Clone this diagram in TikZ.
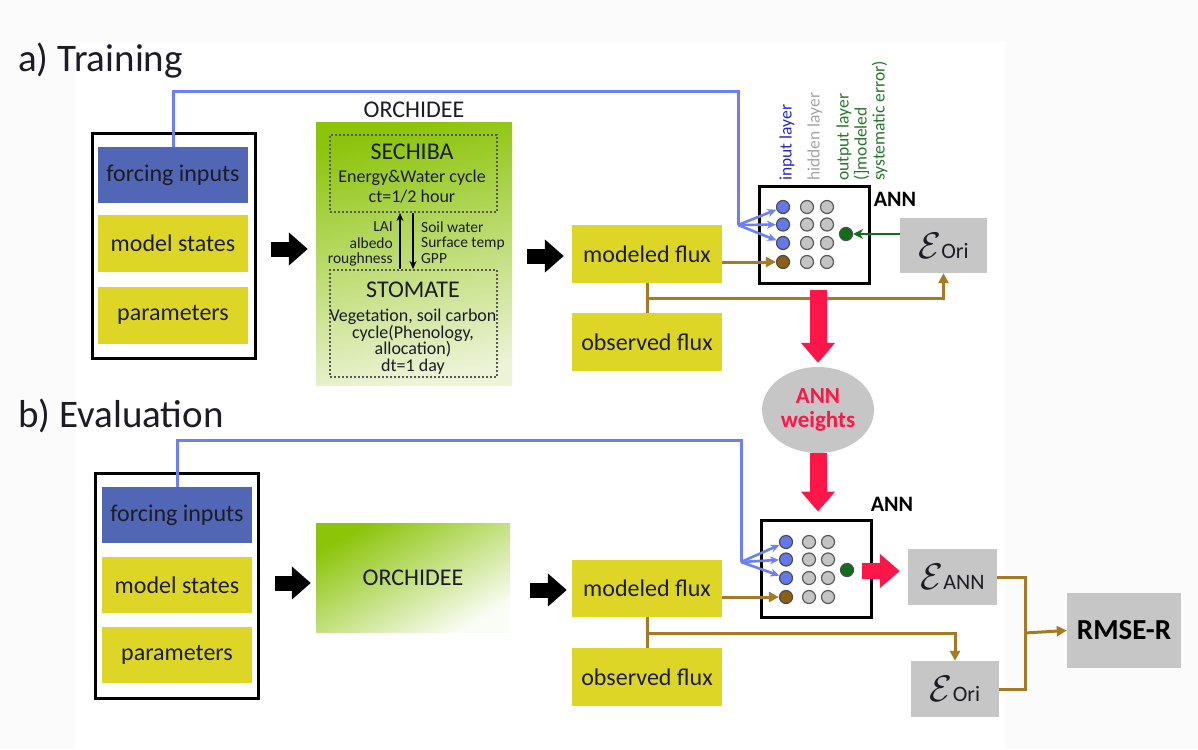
\RequirePackage{fix-cm}
\documentclass[tikz,border=0pt]{standalone}
\usepackage{fontspec}
\setmainfont{Carlito}
\usetikzlibrary{arrows.meta,shapes.geometric}
\definecolor{txt}{RGB}{28,28,36}
\definecolor{yel}{RGB}{222,214,38}
\definecolor{fblue}{RGB}{82,102,182}
\definecolor{greyb}{RGB}{198,198,198}
\definecolor{brn}{RGB}{166,122,36}
\definecolor{brnode}{RGB}{140,95,20}
\definecolor{bline}{RGB}{108,128,246}
\definecolor{bnode}{RGB}{100,120,235}
\definecolor{hnode}{RGB}{196,196,196}
\definecolor{redA}{RGB}{255,22,72}
\definecolor{dgreen}{RGB}{16,110,24}
\definecolor{orG}{RGB}{140,196,10}
\definecolor{orL}{RGB}{236,243,214}
\definecolor{lblblue}{RGB}{40,40,200}
\definecolor{lblgrey}{RGB}{165,165,165}
\definecolor{lblgreen}{RGB}{40,120,40}
\definecolor{bgout}{RGB}{251,251,251}
\newcommand{\epsl}[1]{{\fontsize{37}{37}\selectfont$\mathcal{E}$}{\fontsize{22}{22}\selectfont #1}}
\begin{document}
\begin{tikzpicture}[x=1pt,y=-1pt,
  lab/.style={font=\fontsize{24}{28}\selectfont, inner sep=0, text=txt},
  ybox/.style={lab, fill=yel, minimum width=150, minimum height=57},
  bbox/.style={lab, fill=fblue, minimum width=150, minimum height=56},
  frame/.style={draw=black, line width=3, fill=white, minimum width=163, minimum height=225, inner sep=0},
  gbox/.style={fill=greyb, inner sep=0, text=txt},
  annbox/.style={draw=black, line width=3, fill=white, minimum width=110, minimum height=97, inner sep=0},
  inn/.style={circle, fill=bnode, draw=black!70, line width=1.2, minimum size=13, inner sep=0},
  hid/.style={circle, fill=hnode, draw=black!65, line width=1.2, minimum size=13, inner sep=0},
  outn/.style={circle, fill=dgreen, draw=black!70, line width=1.2, minimum size=13, inner sep=0},
  brn node/.style={circle, fill=brnode, draw=black!70, line width=1.2, minimum size=13, inner sep=0},
  dotbox/.style={draw=black!65, line width=2, dash pattern=on 2pt off 2pt, minimum width=167, inner sep=0},
  small/.style={font=\fontsize{18}{16.5}\selectfont, inner sep=0, text=txt},
  tiny/.style={font=\fontsize{15.5}{15.5}\selectfont, inner sep=0, text=txt},
  layer/.style={rotate=90, anchor=west, font=\fontsize{17.5}{18}\selectfont, inner sep=0},
  blk/.style={black, line width=15, -{Triangle[length=19pt,width=32pt]}},
  redar/.style={redA, line width=17, -{Triangle[length=20pt,width=33pt]}},
  bconn/.style={bline, line width=3},
  barr/.style={bline, line width=2.6, -{Stealth[length=9pt,width=8pt]}},
  brl/.style={brn, line width=3},
  brarr/.style={brn, line width=3, -{Triangle[length=10pt,width=10pt]}},
  grarr/.style={dgreen, line width=2.6, -{Stealth[length=10pt,width=10pt]}},
  title/.style={font=\fontsize{39}{44}\selectfont, inner sep=0, text=txt, anchor=base west}
]
\useasboundingbox (0,0) rectangle (1198,749);
\fill[bgout] (0,0) rectangle (1198,749);
\fill[white] (75,42) rectangle (1005,749);

% ---------------- a) Training ----------------
\node[title] (tA) at (18,72) {a) Training};

\node[frame] (inA) at (173.5,245.5) {};
\node[bbox] (fiA) at (173,175) {forcing inputs};
\node[ybox] (msA) at (173,243.5) {model states};
\node[ybox] (paA) at (173,315) {parameters};

\node[lab, font=\fontsize{24}{24}\selectfont] (orlA) at (414,110) {ORCHIDEE};
\node[minimum width=196, minimum height=263, inner sep=0, top color=orG, bottom color=orL, shading angle=12] (orA) at (414,253.5) {};
\node[dotbox, minimum height=77] (sech) at (413.5,173.5) {};
\node[dotbox, minimum height=107] (stom) at (413.5,323.5) {};
\node[lab, font=\fontsize{24}{24}\selectfont] (sechT) at (412,152) {SECHIBA};
\node[small] (sech1) at (412,178) {Energy\&Water cycle};
\node[small] (sech2) at (412,197) {ct=1/2 hour};
\draw[black, line width=2, -{Stealth[length=8pt,width=7pt]}] (stom.north -| 400,0) -- (sech.south -| 400,0);
\draw[black, line width=2, -{Stealth[length=8pt,width=7pt]}] (sech.south -| 413,0) -- (stom.north -| 413,0);
\node[tiny, anchor=east] (lai) at (393,227) {LAI};
\node[tiny, anchor=east] (alb) at (393,243) {albedo};
\node[tiny, anchor=east] (rou) at (393,259) {roughness};
\node[tiny, anchor=west] (sw) at (421,227) {Soil water};
\node[tiny, anchor=west] (st) at (421,243) {Surface temp};
\node[tiny, anchor=west] (gpp) at (421,259) {GPP};
\node[lab, font=\fontsize{24}{24}\selectfont] (stomT) at (413,290) {STOMATE};
\node[small, align=center, anchor=north] (stomtx) at (413,309) {Vegetation, soil carbon\\cycle(Phenology,\\allocation)\\dt=1 day};

\node[ybox, minimum height=58] (mfA) at (647,254) {modeled flux};
\node[ybox, minimum height=58] (ofA) at (647,342) {observed flux};

\node[annbox] (annA) at (814,234.5) {};
\node[font=\bfseries\fontsize{22}{22}\selectfont, inner sep=0, text=black] (annlA) at (895,199) {ANN};
\node[inn] (iA1) at (783,207) {};
\node[inn] (iA2) at (783,224.5) {};
\node[inn] (iA3) at (783,243) {};
\node[brn node] (bA) at (783,262) {};
\foreach \y [count=\k] in {207,224.5,243,262} {
  \node[hid] (hA\k a) at (807,\y) {};
  \node[hid] (hA\k b) at (827,\y) {};
}
\node[outn] (oA) at (846,234) {};
\node[layer, text=lblblue] (linA) at (787,181) {input layer};
\node[layer, text=lblgrey] (lhidA) at (815,181) {hidden layer};
\node[layer, text=lblgreen, align=left] (loutA) at (862,181) {output layer\\(]modeled\\systematic error)};

\node[gbox, minimum width=87, minimum height=55] (eoA) at (943.5,245.5) {\epsl{Ori}};

\node[ellipse, fill=greyb, minimum width=112, minimum height=86, inner sep=0, align=center,
      font=\bfseries\fontsize{23}{24}\selectfont, text=redA] (w) at (818,410) {ANN\\weights};

% connectors a)
\coordinate (cA) at (738,92);
\coordinate (fanA) at (738,225);
\draw[bconn] (fiA.north) |- (cA) -- (fanA);
\foreach \n in {iA1,iA2,iA3} \draw[barr] (fanA) -- (\n);
\draw[brarr] (mfA.east |- bA) -- (bA);
\draw[brl] (mfA.south) -- (ofA.north);
\coordinate (jA) at (647,298);
\draw[brarr] (jA) -| (eoA.south);
\draw[grarr] (eoA.west |- oA) -- (oA);
\draw[blk, shorten <=14pt, shorten >=8pt] (inA.east |- 0,249) -- (orA.west |- 0,249);
\draw[blk, shorten <=15pt, shorten >=8pt] (orA.east |- 0,256) -- (mfA.west |- 0,256);
\draw[redar, shorten <=5pt, shorten >=4pt] (w.north |- annA.south) -- (w.north);

% ---------------- b) Evaluation ----------------
\node[title] (tB) at (18,427) {b) Evaluation};

\node[frame] (inB) at (176.5,585.5) {};
\node[bbox] (fiB) at (177,515) {forcing inputs};
\node[ybox, minimum height=56] (msB) at (177,585) {model states};
\node[ybox, minimum height=56] (paB) at (177,655) {parameters};

\node[lab, minimum width=194, minimum height=109, top color=orG, bottom color=white!96!orG, shading angle=30] (orB) at (413,577.5) {ORCHIDEE};

\node[ybox] (mfB) at (647,588.5) {modeled flux};
\node[ybox, minimum height=58] (ofB) at (647,677) {observed flux};

\node[annbox] (annB) at (816,568.5) {};
\node[font=\bfseries\fontsize{22}{22}\selectfont, inner sep=0, text=black] (annlB) at (892,504) {ANN};
\node[inn] (iB1) at (786,542) {};
\node[inn] (iB2) at (786,559.5) {};
\node[inn] (iB3) at (786,578) {};
\node[brn node] (bB) at (786,597) {};
\foreach \y [count=\k] in {542,559.5,578,597} {
  \node[hid] (hB\k a) at (809,\y) {};
  \node[hid] (hB\k b) at (828,\y) {};
}
\node[outn] (oB) at (847,570) {};

\node[gbox, minimum width=89, minimum height=56] (eaB) at (952.5,577) {\epsl{ANN}};
\node[gbox, minimum width=88, minimum height=56] (eoB) at (955,689) {\epsl{Ori}};
\node[gbox, minimum width=114, minimum height=75, font=\bfseries\fontsize{29}{29}\selectfont, text=black] (rm) at (1124,630.5) {RMSE-R};

% connectors b)
\coordinate (cB) at (741,440);
\coordinate (fanB) at (741,562);
\draw[bconn] (fiB.north) |- (cB) -- (fanB);
\foreach \n in {iB1,iB2,iB3} \draw[barr] (fanB) -- (\n);
\draw[brarr] (mfB.east |- bB) -- (bB);
\draw[brl] (mfB.south) -- (ofB.north);
\coordinate (jB) at (647,633);
\draw[brarr] (jB) -| (eoB.north);
\coordinate (rj) at (1025,633);
\draw[brl] (eaB.east) -| (rj) |- (eoB.east);
\draw[brarr] (rj) -- (rm.west);
\draw[blk, shorten <=15pt, shorten >=5pt] (inB.east |- 0,583) -- (orB.west |- 0,583);
\draw[blk, shorten <=20pt, shorten >=5pt] (orB.east |- 0,590) -- (mfB.west |- 0,590);
\draw[redar, shorten >=7pt] (w.south) -- (annB.north -| w.south);
\coordinate (r3s) at (862,571);
\draw[redar, line width=16, shorten >=8pt] (r3s) -- (eaB.west |- r3s);
\end{tikzpicture}
\end{document}
